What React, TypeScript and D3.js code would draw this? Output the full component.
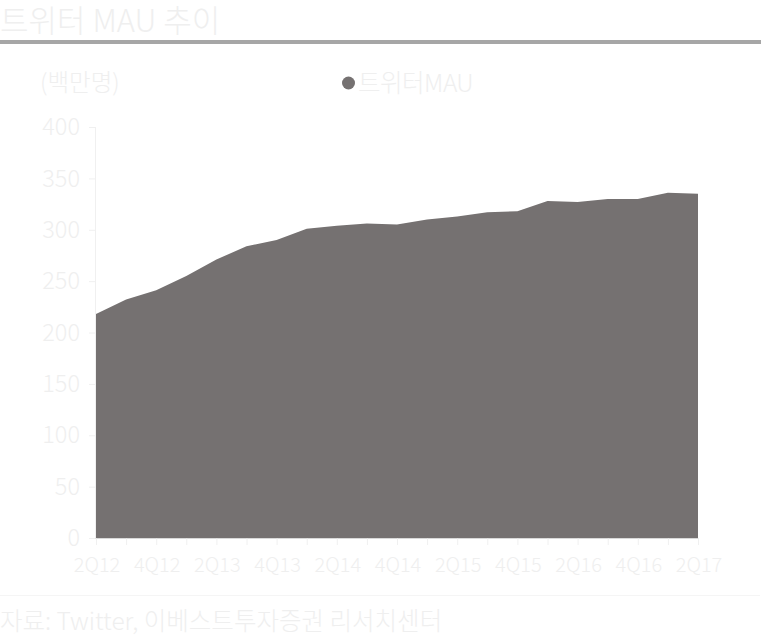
import React from "react";
import * as d3 from "d3";

const categories = ["2Q12","3Q12","4Q12","1Q13","2Q13","3Q13","4Q13","1Q14","2Q14","3Q14","4Q14","1Q15","2Q15","3Q15","4Q15","1Q16","2Q16","3Q16","4Q16","1Q17","2Q17"];
const mau = [218, 232, 241, 255, 271, 284, 290, 301, 304, 306, 305, 310, 313, 317, 318, 328, 327, 330, 330, 336, 335];
const yTicks = [0, 50, 100, 150, 200, 250, 300, 350, 400];
const labelEvery = 2;

const FONT = "'Noto Sans CJK KR', 'Noto Sans', sans-serif";
const TEXT = "#efefef";
const AREA = "#757171";

export default function App() {
  const W = 770, H = 637;
  const x = d3.scalePoint<string>().domain(categories).range([96, 698]);
  const y = d3.scaleLinear().domain([0, 400]).range([538, 127]);
  const area = d3.area<number>()
    .x((_, i) => x(categories[i]) as number)
    .y0(y(0))
    .y1((d) => y(d));

  return (
    <svg width={W} height={H} style={{ position: "absolute", left: 0, top: 0 }} fontFamily={FONT} fontWeight={300}>
      <rect width={W} height={H} fill="#fff" />
      <text x={0} y={32} fontSize={31} fill={TEXT}>트위터 MAU 추이</text>
      <rect x={0} y={40} width={761} height={4} fill="#a6a6a6" />

      <text x={40} y={83} dy="0.35em" fontSize={23.5} fill={TEXT}>(백만명)</text>
      <circle cx={348.5} cy={83} r={6.5} fill={AREA} />
      <text x={358} y={83} dy="0.35em" fontSize={24.5} fill={TEXT} letterSpacing={-0.5}>트위터MAU</text>

      <path d={area(mau) || ""} fill={AREA} />

      <line x1={95.5} x2={95.5} y1={127} y2={539} stroke="#f0f0f0" />
      {yTicks.map((t) => (
        <g key={t}>
          <line x1={89} x2={95.5} y1={y(t) + 0.5} y2={y(t) + 0.5} stroke="#f0f0f0" />
          <text x={80} y={y(t)} dy="0.35em" textAnchor="end" fontSize={23.5} fill={TEXT}>{t}</text>
        </g>
      ))}
      <line x1={95.5} x2={698.5} y1={538.5} y2={538.5} stroke="#d9d9d9" />
      {categories.map((c, i) => (
        <g key={c}>
          <line x1={(x(c) as number) + 0.5} x2={(x(c) as number) + 0.5} y1={538.5} y2={545} stroke="#f0f0f0" />
          {i % labelEvery === 0 && (
            <text x={(x(c) as number) + 1} y={565} dy="0.35em" textAnchor="middle" fontSize={20} fill={TEXT}>{c}</text>
          )}
        </g>
      ))}

      <line x1={0} x2={760} y1={595.5} y2={595.5} stroke="#f5f5f5" />
      <text x={0} y={630} fontSize={24.5} fill={TEXT}>자료: Twitter, 이베스트투자증권 리서치센터</text>
    </svg>
  );
}
